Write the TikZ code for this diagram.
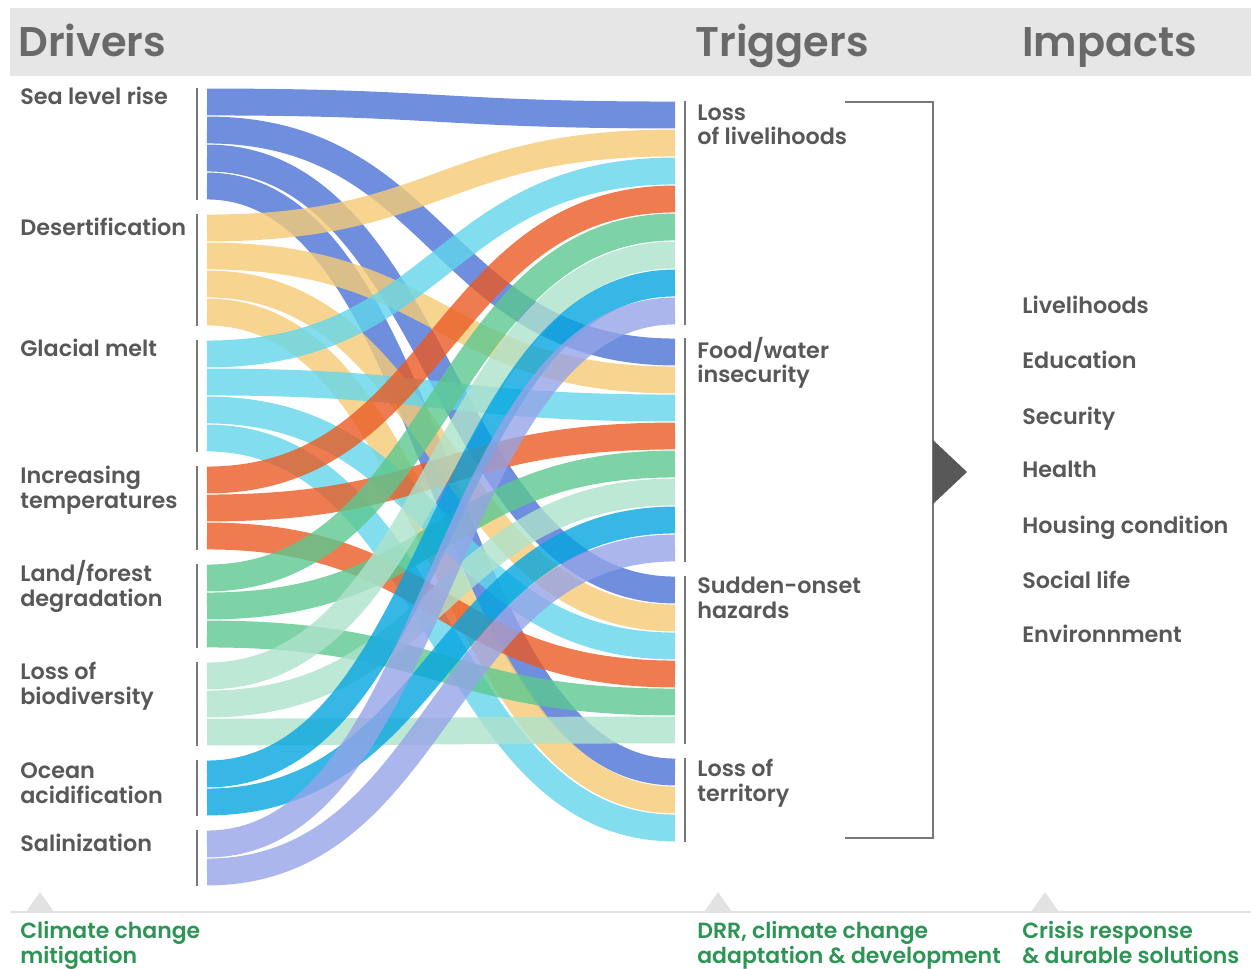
\documentclass[tikz,border=0pt]{standalone}
\usepackage{fontspec}
\setmainfont{Poppins}
\newfontfamily\semib{Poppins SemiBold}
\usetikzlibrary{positioning}
% band colours
\definecolor{slr}{RGB}{76,114,214}
\definecolor{desert}{RGB}{245,203,118}
\definecolor{glacial}{RGB}{99,214,234}
\definecolor{temp}{RGB}{234,91,36}
\definecolor{land}{RGB}{93,200,144}
\definecolor{biodiv}{RGB}{174,226,204}
\definecolor{ocean}{RGB}{5,165,224}
\definecolor{salin}{RGB}{149,164,231}
% text and lines
\definecolor{labelgray}{RGB}{88,88,88}
\definecolor{headgray}{RGB}{105,105,105}
\definecolor{headbg}{RGB}{230,230,230}
\definecolor{bargray}{RGB}{120,120,120}
\definecolor{policygreen}{RGB}{46,148,86}
\definecolor{rulegray}{RGB}{226,226,226}
\tikzset{
	band/.style={draw=#1, draw opacity=.8, line width=15.3pt},
	lbl/.style={anchor=base west, align=left, inner sep=0pt, text=labelgray,
			font=\semib\fontsize{12.7}{14.2}\selectfont},
	head/.style={anchor=base west, inner sep=0pt, text=headgray,
			font=\semib\fontsize{23.6}{28}\selectfont},
	policy/.style={lbl, text=policygreen, font=\semib\fontsize{12.5}{14.2}\selectfont},
	bar/.style={draw=bargray, line width=1.1pt},
	marker/.style={fill=rulegray}
}
% one flow: colour, band centre on the left, band centre on the right
\newcommand{\flow}[3]{%
	\draw[band=#1] (207,#2) .. controls (441,#2) and (441,#3) .. (675,#3);}

\begin{document}
\begin{tikzpicture}[x=0.02cm, y=-0.02cm]
	\useasboundingbox (0,0) rectangle (1251,969);
	\fill[headbg] (10,8) rectangle (1251,76);
	\node[head] (drv) at (18,57) {Drivers};
	\node[head] (trg) at (695,57) {Triggers};
	\node[head] (imp) at (1022,57) {Impacts};

	% flows (centres of the bands)
	\foreach \c/\l/\r in {slr/102/115, slr/130/352, slr/158/590, slr/186/772,
			desert/228/143, desert/256/380, desert/284/618, desert/312/800,
			glacial/354/171, glacial/382/408, glacial/410/646, glacial/438/828,
			temp/480/199, temp/508/436, temp/536/674,
			land/578/227, land/606/464, land/634/702,
			biodiv/676/255, biodiv/704/492, biodiv/732/730,
			ocean/774/283, ocean/802/520,
			salin/844/311, salin/872/548}
		\flow{\c}{\l}{\r};

	% bars
	\foreach \t/\b in {88/200, 214/326, 340/452, 466/550, 564/648, 662/746, 760/816, 830/886}
		\draw[bar] (197,\t) -- (197,\b);
	\foreach \t/\b in {101/325, 338/562, 576/744, 758/842}
		\draw[bar] (685,\t) -- (685,\b);

	% drivers
	\node[lbl] (sea) at (20,105) {Sea level rise};
	\node[lbl] (des) at (20,236) {Desertification};
	\node[lbl] (gla) at (20,357) {Glacial melt};
	\node[lbl] (inc) at (20,508) {Increasing\\temperatures};
	\node[lbl] (lfd) at (20,606) {Land/forest\\degradation};
	\node[lbl] (lob) at (20,704) {Loss of\\biodiversity};
	\node[lbl] (oce) at (20,803) {Ocean\\acidification};
	\node[lbl] (sal) at (20,851) {Salinization};

	% triggers
	\node[lbl] (lol) at (697,145) {Loss\\of livelihoods};
	\node[lbl] (fwi) at (697,383) {Food/water\\insecurity};
	\node[lbl] (soh) at (697,618) {Sudden-onset\\hazards};
	\node[lbl] (lot) at (697,801) {Loss of\\territory};

	% bracket and arrow
	\coordinate (brt) at (845,102);
	\coordinate (brb) at (845,838);
	\draw[draw=bargray, line width=0.9pt] (brt) -- (933,102) -- (933,838) -- (brb);
	\fill[labelgray] (933,440) -- (967,472) -- (933,504) -- cycle;

	% impacts
	\node[lbl] (liv) at (1022,314) {Livelihoods};
	\node[lbl] (edu) at (1022,369) {Education};
	\node[lbl] (sec) at (1022,424) {Security};
	\node[lbl] (hea) at (1022,478) {Health};
	\node[lbl] (hou) at (1022,533) {Housing condition};
	\node[lbl] (soc) at (1022,588) {Social life};
	\node[lbl] (env) at (1022,642) {Environnment};

	% policy line
	\draw[rulegray, line width=1.2pt] (10,912) -- (1251,912);
	\foreach \x in {40, 718, 1045}
		\fill[marker] (\x-14,912) -- (\x,892) -- (\x+14,912) -- cycle;
	\node[policy] (mit) at (20,963) {Climate change\\mitigation};
	\node[policy] (drr) at (697,963) {DRR, climate change\\adaptation \& development};
	\node[policy] (cri) at (1022,963) {Crisis response\\\& durable solutions};
\end{tikzpicture}
\end{document}
